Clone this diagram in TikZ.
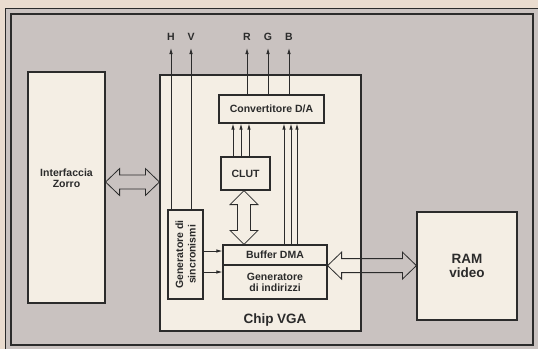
\documentclass[tikz,border=0pt]{standalone}
\usepackage{fontspec}
\setmainfont{Liberation Sans}
\usetikzlibrary{arrows.meta,calc}
\definecolor{paper}{HTML}{EADCCF}
\definecolor{panel}{HTML}{C9C2C0}
\definecolor{boxfill}{HTML}{F4EEE4}
\definecolor{ink}{HTML}{2B2B2B}
\newcommand\hdarrow[2]{\draw[hollow] (#1) -- ++(14,-13.5) -- ++(0,6.5) -- ($(#2)+(-14,-7)$) -- ++(0,-6.5) -- (#2) -- ++(-14,13.5) -- ++(0,-6.5) -- ($(#1)+(14,7)$) -- ++(0,6.5) -- cycle;}
\newcommand\vdarrow[2]{\draw[hollow] (#1) -- ++(-14,14) -- ++(7.5,0) -- ($(#2)+(-6.5,-14)$) -- ++(-7.5,0) -- (#2) -- ++(14,-14) -- ++(-7.5,0) -- ($(#1)+(6.5,14)$) -- ++(7.5,0) -- cycle;}
\begin{document}
\begin{tikzpicture}[x=1pt,y=-1pt,
  box/.style={draw=ink, line width=1.2pt, fill=boxfill, inner sep=0pt},
  txt/.style={font=\bfseries\fontsize{10.5}{11}\selectfont, text=ink, align=center, inner sep=0pt},
  bigtxt/.style={font=\bfseries\fontsize{13.5}{14}\selectfont, text=ink, align=center, inner sep=0pt},
  sig/.style={draw=ink, line width=0.8pt, -{Latex[length=6pt,width=3.5pt]}},
  hollow/.style={draw=ink, line width=0.8pt}]
\useasboundingbox (0,0) rectangle (538,349);
\fill[paper] (0,0) rectangle (538,349);
\fill[panel] (5,8) rectangle (538,349);
\draw[ink, line width=0.6pt] (5,349) -- (5,8) -- (538,8);
\draw[ink, line width=2.5pt] (11,14) rectangle (533,345);

% boxes
\node[box, minimum width=77, minimum height=231] (zorro) at (66.5,187.5) {};
\node[txt] (zorrotxt) at ($(zorro.center)+(0,-9)$) {Interfaccia\\Zorro};
\node[box, minimum width=201, minimum height=256] (chip) at (260.5,203) {};
\node[bigtxt] (chiplbl) at ($(chip.south)+(14.5,-12)$) {Chip VGA};
\node[box, minimum width=105, minimum height=28, txt] (conv) at (271.5,109) {Convertitore D/A};
\node[box, minimum width=49, minimum height=33, txt] (clut) at (245.5,173.5) {CLUT};
\node[box, minimum width=104, minimum height=20, txt] (buf) at (275,255) {Buffer DMA};
\node[box, minimum width=104, minimum height=34, txt] (gen) at (275,282) {Generatore\\di indirizzi};
\node[box, minimum width=35, minimum height=89] (sync) at (185.5,254.5) {};
\node[txt, rotate=90, font=\bfseries\fontsize{10.5}{12.5}\selectfont] (synctxt) at (sync.center) {Generatore di\\sincronismi};
\node[box, minimum width=100, minimum height=108] (ram) at (467,266) {};
\node[bigtxt] (ramtxt) at (ram.center) {RAM\\video};

% output signals
\node[txt] (Hl) at (171,37) {H};
\node[txt] (Vl) at (191,37) {V};
\node[txt] (Rl) at (247,37) {R};
\node[txt] (Gl) at (268,37) {G};
\node[txt] (Bl) at (289,37) {B};
\coordinate (Ht) at (171,48);
\coordinate (Vt) at (191,48);
\coordinate (Rt) at (247,48);
\coordinate (Gt) at (268,48);
\coordinate (Bt) at (289,48);
\draw[sig] (sync.north -| Ht) -- (Ht);
\draw[sig] (sync.north -| Vt) -- (Vt);
\draw[sig] (conv.north -| Rt) -- (Rt);
\draw[sig] (conv.north -| Gt) -- (Gt);
\draw[sig] (conv.north -| Bt) -- (Bt);

% CLUT -> converter
\foreach \dx [count=\i] in {-12.5,-4.5,3.5} {
  \path ([xshift=\dx pt]clut.north) coordinate (c\i);
  \draw[sig] (c\i) -- (c\i |- conv.south);
}
% buffer -> converter
\foreach \dx [count=\i] in {9,16,22} {
  \path ([xshift=\dx pt]buf.north) coordinate (b\i);
  \draw[sig] (b\i) -- (b\i |- conv.south);
}
% sync -> buffer / generator
\path ([yshift=4pt]buf.west) coordinate (s1);
\path ([yshift=10pt]gen.west) coordinate (s2);
\draw[sig] (sync.east |- s1) -- (s1);
\draw[sig] (sync.east |- s2) -- (s2);

% hollow double arrows
\coordinate (za) at ($(zorro.east)+(0,-5.5)$);
\coordinate (zb) at (chip.west |- za);
\hdarrow{za}{zb}
\coordinate (ra) at (buf.south east);
\coordinate (rb) at (ram.west |- ra);
\hdarrow{ra}{rb}
\path ([xshift=-1.5pt]clut.south) coordinate (ca);
\coordinate (cb) at (ca |- buf.north);
\vdarrow{ca}{cb}
\end{tikzpicture}
\end{document}
